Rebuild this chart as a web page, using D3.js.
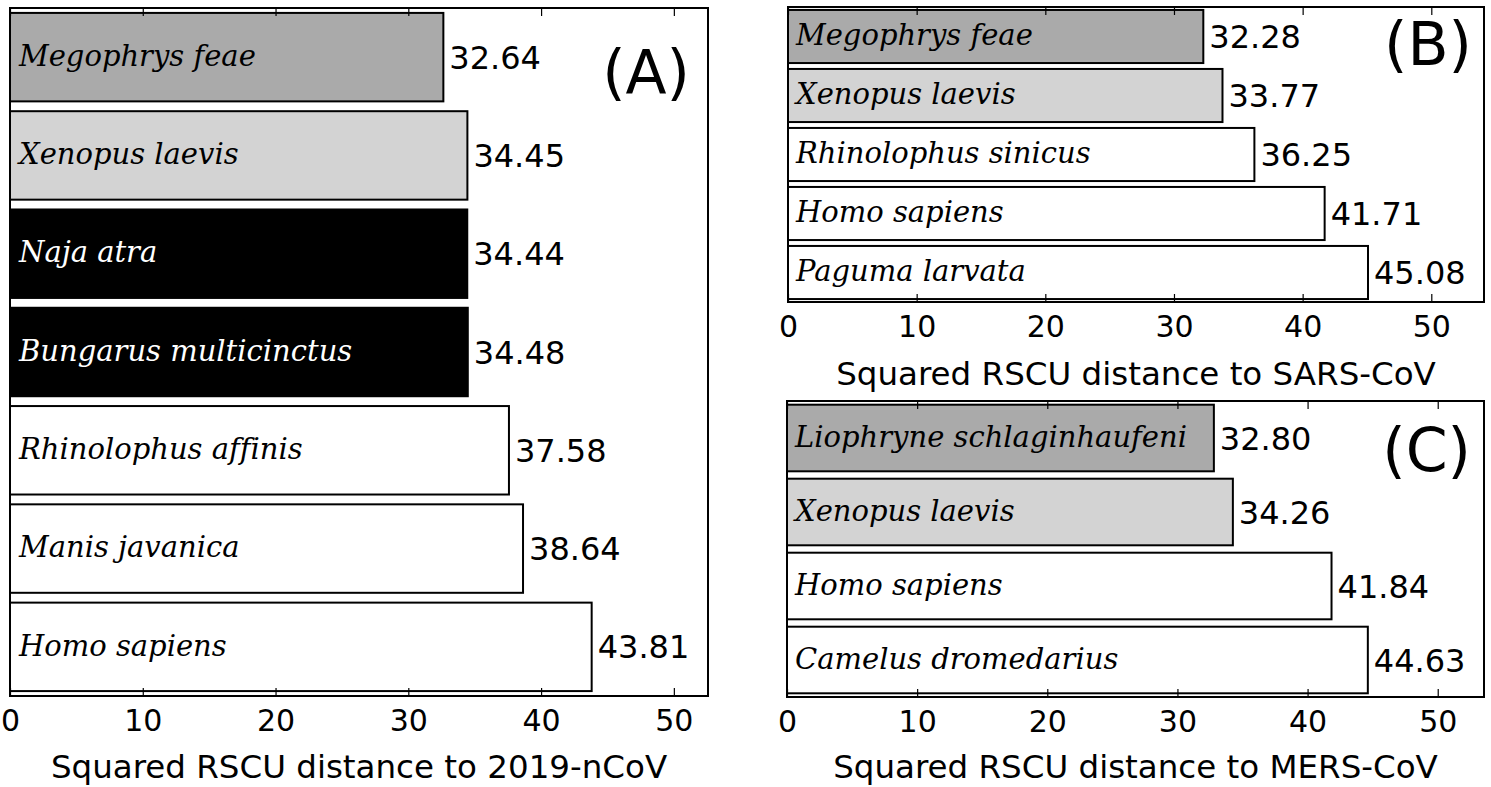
<!DOCTYPE html>
<html><head><meta charset="utf-8">
<script src="https://cdn.jsdelivr.net/npm/d3@7"></script>
<style>
body{margin:0;background:#fff;}
svg{display:block;}
</style></head>
<body>
<svg id="chart" width="1491" height="787"></svg>
<script>
// Panel A: 2019-nCoV
const speciesA = ["Megophrys feae","Xenopus laevis","Naja atra","Bungarus multicinctus","Rhinolophus affinis","Manis javanica","Homo sapiens"];
const valuesA = [32.64, 34.45, 34.44, 34.48, 37.58, 38.64, 43.81];
const fillsA = ["#aaaaaa","#d3d3d3","#000000","#000000","#ffffff","#ffffff","#ffffff"];
// Panel B: SARS-CoV
const speciesB = ["Megophrys feae","Xenopus laevis","Rhinolophus sinicus","Homo sapiens","Paguma larvata"];
const valuesB = [32.28, 33.77, 36.25, 41.71, 45.08];
const fillsB = ["#aaaaaa","#d3d3d3","#ffffff","#ffffff","#ffffff"];
// Panel C: MERS-CoV
const speciesC = ["Liophryne schlaginhaufeni","Xenopus laevis","Homo sapiens","Camelus dromedarius"];
const valuesC = [32.80, 34.26, 41.84, 44.63];
const fillsC = ["#aaaaaa","#d3d3d3","#ffffff","#ffffff"];
const tickValues = [0,10,20,30,40,50];
const titles = ["Squared RSCU distance to 2019-nCoV","Squared RSCU distance to SARS-CoV","Squared RSCU distance to MERS-CoV"];
const panelTags = ["(A)","(B)","(C)"];

const svg = d3.select("#chart");

const panels = [
  {species:speciesA, values:valuesA, fills:fillsA, title:titles[0], tag:panelTags[0],
   x0:10, x1:708, y0:8, y1:696, tagX:690, tagY:93, labelDx:9, titleY:778},
  {species:speciesB, values:valuesB, fills:fillsB, title:titles[1], tag:panelTags[1],
   x0:788, x1:1484, y0:7, y1:302, tagX:1472, tagY:65, labelDx:8, titleY:385},
  {species:speciesC, values:valuesC, fills:fillsC, title:titles[2], tag:panelTags[2],
   x0:787, x1:1484, y0:401, y1:697, tagX:1471, tagY:471, labelDx:8, titleY:778}
];

panels.forEach(p => {
  const x = d3.scaleLinear().domain([0, d3.max(p.values)*1.2]).range([p.x0, p.x1]);
  const y = d3.scaleBand().domain(p.species).range([p.y0, p.y1]).paddingInner(0.1).paddingOuter(0.05);
  const g = svg.append("g");
  const data = p.species.map((s,i)=>({s, v:p.values[i], f:p.fills[i]}));

  g.selectAll("rect.bar").data(data).enter().append("rect")
    .attr("x", x(0)).attr("y", d=>y(d.s))
    .attr("width", d=>x(d.v)-x(0)).attr("height", y.bandwidth())
    .attr("fill", d=>d.f).attr("stroke","#000").attr("stroke-width",2);

  g.selectAll("text.sp").data(data).enter().append("text")
    .attr("x", x(0)+p.labelDx).attr("y", d=>y(d.s)+y.bandwidth()/2)
    .attr("dy","0.3em")
    .attr("font-family","'DejaVu Serif'").attr("font-style","italic")
    .attr("font-size",29).attr("fill", d=>d.f==="#000000"?"#fff":"#000")
    .style("font-variant-ligatures","none")
    .text(d=>d.s);

  g.selectAll("text.val").data(data).enter().append("text")
    .attr("x", d=>x(d.v)+6).attr("y", d=>y(d.s)+y.bandwidth()/2)
    .attr("dy","0.36em")
    .attr("font-family","'DejaVu Sans'").attr("font-size",32).attr("fill","#000")
    .text(d=>d.v.toFixed(2));

  // frame
  g.append("rect").attr("x",p.x0).attr("y",p.y0).attr("width",p.x1-p.x0).attr("height",p.y1-p.y0)
    .attr("fill","none").attr("stroke","#000").attr("stroke-width",2);

  // bottom axis
  const axB = d3.axisBottom(x).tickValues(tickValues).tickSizeInner(-8).tickSizeOuter(0).tickPadding(14);
  const gb = g.append("g").attr("transform",`translate(0,${p.y1})`).call(axB);
  gb.select(".domain").remove();
  gb.selectAll("line").attr("stroke","#000").attr("stroke-width",1.2);
  gb.selectAll("text").attr("font-family","'DejaVu Sans'").attr("font-size",30).attr("fill","#000");
  // top ticks
  const axT = d3.axisTop(x).tickValues(tickValues).tickSizeInner(-8).tickSizeOuter(0).tickFormat("");
  const gt = g.append("g").attr("transform",`translate(0,${p.y0})`).call(axT);
  gt.select(".domain").remove();
  gt.selectAll("line").attr("stroke","#000").attr("stroke-width",1.2);

  g.append("text").attr("x",(p.x0+p.x1)/2).attr("y",p.titleY)
    .attr("text-anchor","middle").attr("font-family","'DejaVu Sans'").attr("font-size",32.5)
    .text(p.title);

  g.append("text").attr("x",p.tagX).attr("y",p.tagY).attr("text-anchor","end")
    .attr("font-family","'DejaVu Sans'").attr("font-size",60).text(p.tag);
});
</script>
</body></html>
